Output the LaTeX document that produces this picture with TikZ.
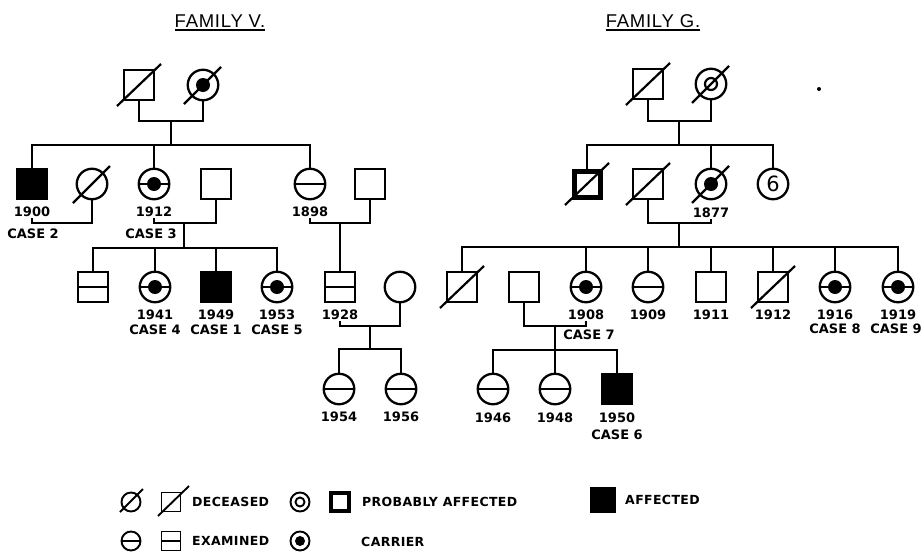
\documentclass[tikz,border=0pt]{standalone}
\usepackage{fontspec}
\setmainfont{DejaVu Sans}
\newfontfamily\lblfam{DejaVu Sans}
\newfontfamily\legfam[LetterSpace=3]{DejaVu Sans}
\newfontfamily\titlefam[LetterSpace=4]{Liberation Sans}
\newcommand\decsq[1]{\draw[slashline] ([shift={(-22,21)}]#1.center) -- ([shift={(22,-21)}]#1.center);}
\newcommand\decci[1]{\draw[slashline] ([shift={(-19,19)}]#1.center) -- ([shift={(18,-18)}]#1.center);}
\tikzset{
  base/.style={draw, line width=2.3pt, inner sep=0pt, outer sep=0pt},
  msq/.style={base, rectangle, minimum size=30pt},
  fci/.style={base, circle, minimum size=30.5pt},
  probsq/.style={base, rectangle, line width=5pt, minimum size=26pt},
  aff/.style={fill=black},
  exam/.style={path picture={\draw[line width=2.3pt] (path picture bounding box.west) -- (path picture bounding box.east);}},
  carr/.style={path picture={\fill (path picture bounding box.center) circle (7pt);}},
  carrex/.style={path picture={\draw[line width=2.3pt] (path picture bounding box.west) -- (path picture bounding box.east); \fill (path picture bounding box.center) circle (7pt);}},
  ring/.style={path picture={\draw[line width=2.2pt] (path picture bounding box.center) circle (6pt);}},
  lsq/.style={base, rectangle, line width=1.9pt, minimum size=19pt},
  lci/.style={base, circle, line width=1.9pt, minimum size=19pt},
  lring/.style={path picture={\draw[line width=1.9pt] (path picture bounding box.center) circle (4.5pt);}},
  lcarr/.style={path picture={\fill (path picture bounding box.center) circle (5pt);}},
  lexam/.style={path picture={\draw[line width=1.9pt] (path picture bounding box.west) -- (path picture bounding box.east);}},
  slashline/.style={line width=2.2pt},
  tie/.style={line width=2.2pt},
  lbl/.style={font=\lblfam\bfseries\fontsize{13}{15}\selectfont, inner sep=1pt},
  legtext/.style={font=\legfam\bfseries\fontsize{12.5}{14}\selectfont, inner sep=0pt, anchor=west},
  title/.style={font=\titlefam\fontsize{18.5}{20}\selectfont, inner sep=0pt},
}
\begin{document}
\begin{tikzpicture}[x=1pt, y=-1pt]
\fill[white] (0,0) rectangle (923,552);
\useasboundingbox (0,0) rectangle (923,552);

% titles
\node[title, anchor=base] (tv) at (220,27) {FAMILY V.};
\draw[line width=2pt] ([yshift=-3pt]tv.base west) -- ([yshift=-3pt]tv.base east);
\node[title, anchor=base] (tg) at (653,27) {FAMILY G.};
\draw[line width=2pt] ([yshift=-3pt]tg.base west) -- ([yshift=-3pt]tg.base east);

% ================= FAMILY V =================
\node[msq] (vgf) at (139,85) {};
\node[fci,carr] (vgm) at (203,85) {};
\decsq{vgf} \decci{vgm}
\coordinate (vm1) at (171,121);
\coordinate (vs1) at (171,145);
\draw[tie] (vgf) |- (vm1) -| (vgm);
\draw[tie] (vm1) -- (vs1);

\node[msq,aff] (v1) at (32,184) {};
\node[fci] (v2) at (92,184) {};
\node[fci,carrex] (v3) at (154,184) {};
\node[msq] (v4) at (216,184) {};
\node[fci,exam] (v5) at (310,184) {};
\node[msq] (v6) at (370,184) {};
\decci{v2}
\draw[tie] (v1) |- (vs1) -| (v5);
\draw[tie] (v3) -- (v3 |- vs1);

\node[lbl] (t1900) at (32,212) {1900};
\node[lbl] (c2) at (33,234) {CASE 2};
\node[lbl] (t1912) at (154,212) {1912};
\node[lbl] (c3) at (151,234) {CASE 3};
\node[lbl] (t1898) at (310,212) {1898};

\coordinate (vm2) at (62,223);
\draw[tie] (t1900) |- (vm2) -| (v2);
\coordinate (vm3) at (184,223);
\coordinate (vs3) at (184,248);
\draw[tie] (t1912) |- (vm3) -| (v4);
\draw[tie] (vm3) -- (vs3);
\coordinate (vm4) at (340,223);
\draw[tie] (t1898) |- (vm4) -| (v6);

\node[msq,exam] (w1) at (93,287) {};
\node[fci,carrex] (w2) at (155,287) {};
\node[msq,aff] (w3) at (216,287) {};
\node[fci,carrex] (w4) at (277,287) {};
\node[msq,exam] (w5) at (340,287) {};
\node[fci] (w6) at (400,287) {};
\draw[tie] (w1) |- (vs3) -| (w4);
\draw[tie] (w2) -- (w2 |- vs3);
\draw[tie] (w3) -- (w3 |- vs3);
\draw[tie] (vm4) -- (w5);

\node[lbl] (t1941) at (155,315) {1941};
\node[lbl] (c4) at (155,330) {CASE 4};
\node[lbl] (t1949) at (216,315) {1949};
\node[lbl] (c1) at (216,330) {CASE 1};
\node[lbl] (t1953) at (277,315) {1953};
\node[lbl] (c5) at (277,330) {CASE 5};
\node[lbl] (t1928) at (340,315) {1928};

\coordinate (vm5) at (370,326);
\coordinate (vs5) at (370,349);
\draw[tie] (t1928) |- (vm5) -| (w6);
\draw[tie] (vm5) -- (vs5);

\node[fci,exam] (x1) at (339,389) {};
\node[fci,exam] (x2) at (401,389) {};
\draw[tie] (x1) |- (vs5) -| (x2);
\node[lbl] (t1954) at (339,417) {1954};
\node[lbl] (t1956) at (401,417) {1956};

% ================= FAMILY G =================
\node[msq] (gf) at (648,84) {};
\node[fci,ring] (gm) at (711,84) {};
\decsq{gf} \decci{gm}
\coordinate (gm1) at (679,121);
\coordinate (gs1) at (679,145);
\draw[tie] (gf) |- (gm1) -| (gm);
\draw[tie] (gm1) -- (gs1);

\node[probsq] (g1) at (587,184) {};
\node[msq] (g2) at (648,184) {};
\node[fci,carr] (g3) at (711,184) {};
\node[fci, font=\fontsize{21}{22}\selectfont] (g4) at (773,184) {6};
\decsq{g1} \decsq{g2} \decci{g3}
\draw[tie] (g1) |- (gs1) -| (g4);
\draw[tie] (g3) -- (g3 |- gs1);

\node[lbl] (t1877) at (711,213) {1877};
\coordinate (gm2) at (679,223);
\coordinate (gs2) at (679,247);
\draw[tie] (g2) |- (gm2) -| (t1877);
\draw[tie] (gm2) -- (gs2);

\node[msq] (h1) at (462,287) {};
\node[msq] (h2) at (524,287) {};
\node[fci,carrex] (h3) at (586,287) {};
\node[fci,exam] (h4) at (648,287) {};
\node[msq] (h5) at (711,287) {};
\node[msq] (h6) at (773,287) {};
\node[fci,carrex] (h7) at (835,287) {};
\node[fci,carrex] (h8) at (898,287) {};
\decsq{h1} \decsq{h6}
\draw[tie] (h1) |- (gs2) -| (h8);
\foreach \n in {h3,h4,h5,h6,h7} \draw[tie] (\n) -- (\n |- gs2);

\node[lbl] (t1908) at (586,315) {1908};
\node[lbl] (c7) at (589,335) {CASE 7};
\node[lbl] (t1909) at (648,315) {1909};
\node[lbl] (t1911) at (711,315) {1911};
\node[lbl] (t1912g) at (773,315) {1912};
\node[lbl] (t1916) at (835,315) {1916};
\node[lbl] (c8) at (835,329) {CASE 8};
\node[lbl] (t1919) at (898,315) {1919};
\node[lbl] (c9) at (896,329) {CASE 9};

\coordinate (gm3) at (555,326);
\coordinate (gs3) at (555,350);
\draw[tie] (h2) |- (gm3) -| (t1908);
\draw[tie] (gm3) -- (gs3);

\node[fci,exam] (k1) at (493,389) {};
\node[fci,exam] (k2) at (555,389) {};
\node[msq,aff] (k3) at (617,389) {};
\draw[tie] (k1) |- (gs3) -| (k3);
\draw[tie] (k2) -- (k2 |- gs3);
\node[lbl] (t1946) at (493,418) {1946};
\node[lbl] (t1948) at (555,418) {1948};
\node[lbl] (t1950) at (617,418) {1950};
\node[lbl] (c6) at (617,435) {CASE 6};

\fill (819,89) circle (2pt);

% ================= LEGEND =================
\node[lci] (lg1) at (131,502) {};
\node[lsq] (lg2) at (171,502) {};
\draw[slashline, line width=1.9pt] ([shift={(-11,10)}]lg1.center) -- ([shift={(12,-13)}]lg1.center);
\draw[slashline, line width=1.9pt] ([shift={(-13,14)}]lg2.center) -- ([shift={(18,-16)}]lg2.center);
\node[legtext] (lt1) at (192,502) {DECEASED};
\node[lci,lring] (lg3) at (300,502) {};
\node[base, rectangle, line width=4.5pt, minimum size=18pt] (lg4) at (340,502) {};
\node[legtext] (lt2) at (362,502) {PROBABLY AFFECTED};
\node[base, rectangle, minimum size=23pt, fill=black] (lg5) at (603,500) {};
\node[legtext] (lt3) at (625,500) {AFFECTED};

\node[lci,lexam] (lg6) at (131,541) {};
\node[lsq,lexam] (lg7) at (171,541) {};
\node[legtext] (lt4) at (192,541) {EXAMINED};
\node[lci,lcarr] (lg8) at (300,541) {};
\node[legtext] (lt5) at (361,542) {CARRIER};
\end{tikzpicture}
\end{document}
